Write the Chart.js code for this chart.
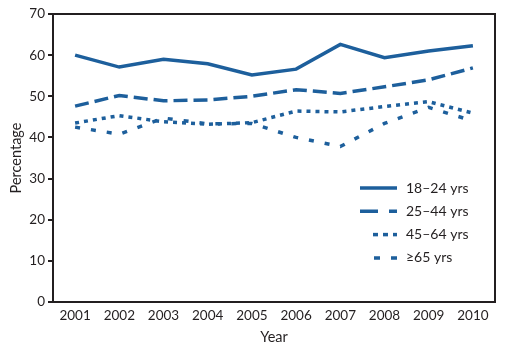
<!DOCTYPE html>
<html>
<head>
<meta charset="utf-8">
<script src="https://cdn.jsdelivr.net/npm/chart.js@4/dist/chart.umd.min.js"></script>
<style>
html,body{margin:0;padding:0;background:#fff;}
#wrap{width:511px;height:352px;position:relative;}
</style>
</head>
<body>
<div id="wrap"><canvas id="c" width="511" height="352"></canvas></div>
<script>
const years = ['2001','2002','2003','2004','2005','2006','2007','2008','2009','2010'];
const age18to24 = [60.0, 57.1, 59.0, 57.9, 55.2, 56.6, 62.6, 59.4, 61.0, 62.3];
const age25to44 = [47.6, 50.2, 48.9, 49.1, 50.0, 51.6, 50.7, 52.3, 54.0, 56.9];
const age45to64 = [43.5, 45.3, 43.8, 43.2, 43.6, 46.4, 46.2, 47.5, 48.7, 45.9];
const age65plus = [42.5, 40.8, 44.7, 43.3, 43.4, 40.0, 37.8, 43.4, 47.3, 44.0];
const seriesLabels = ['18\u201324 yrs','25\u201344 yrs','45\u201364 yrs','\u226565 yrs'];

const blue = '#1d5f9c';
const ink = '#231f20';
const fontFam = 'Lato, "Liberation Sans", sans-serif';

const frame = {
  id:'frame',
  afterDraw(chart){
    const {ctx, chartArea:a} = chart;
    ctx.save();
    ctx.strokeStyle = ink; ctx.lineWidth = 2;
    ctx.strokeRect(a.left, a.top, a.right-a.left, a.bottom-a.top);
    // legend inside plot
    const x1 = a.left + 344, tx = x1 + 9;
    let y = 188;
    ctx.font = '14px ' + fontFam;
    ctx.textBaseline = 'middle';
    chart.data.datasets.forEach((ds, i) => {
      ctx.beginPath();
      ctx.strokeStyle = ds.borderColor;
      ctx.lineWidth = ds.borderWidth;
      ctx.setLineDash(ds.legendDash || []);
      ctx.moveTo(x1 - ds.legendLen, y); ctx.lineTo(x1, y);
      ctx.stroke();
      ctx.setLineDash([]);
      ctx.fillStyle = ink;
      ctx.fillText(ds.label, tx, y);
      y += 23.3;
    });
    ctx.restore();
  }
};

new Chart(document.getElementById('c'), {
  type:'line',
  data:{
    labels: years,
    datasets:[
      {label:seriesLabels[0], data:age18to24, borderColor:blue, borderWidth:3.5, borderDash:[], legendDash:[], legendLen:37, pointRadius:0, tension:0, fill:false},
      {label:seriesLabels[1], data:age25to44, borderColor:blue, borderWidth:3.5, borderDash:[14,6], legendDash:[18,11], legendLen:37, pointRadius:0, tension:0, fill:false},
      {label:seriesLabels[2], data:age45to64, borderColor:blue, borderWidth:3.5, borderDash:[4,5], legendDash:[5,5], legendLen:24, pointRadius:0, tension:0, fill:false},
      {label:seriesLabels[3], data:age65plus, borderColor:blue, borderWidth:3.5, borderDash:[5,11], legendDash:[6,11], legendLen:23, pointRadius:0, tension:0, fill:false}
    ]
  },
  options:{
    responsive:false, maintainAspectRatio:false, animation:false,
    devicePixelRatio:1,
    layout:{padding:{top:14, right:16, left:0, bottom:0}},
    plugins:{legend:{display:false}, tooltip:{enabled:false}},
    scales:{
      x:{
        offset:true,
        afterFit(s){ s.height = 50; },
        grid:{display:false, drawTicks:false},
        border:{display:true, color:ink, width:2},
        ticks:{color:ink, font:{family:fontFam, size:13.5}, padding:6, maxRotation:0, autoSkip:false},
        title:{display:true, text:'Year', color:ink, font:{family:fontFam, size:14.5}, padding:{top:0, bottom:6}}
      },
      y:{
        min:0, max:70,
        afterFit(s){ s.width = 53; },
        grid:{display:true, drawOnChartArea:false, drawTicks:true, tickLength:5, color:ink, lineWidth:2},
        border:{display:true, color:ink, width:2},
        ticks:{stepSize:10, color:ink, font:{family:fontFam, size:13.5}, padding:3},
        title:{display:true, text:'Percentage', color:ink, font:{family:fontFam, size:14.5}, padding:{top:8, bottom:0}}
      }
    }
  },
  plugins:[frame]
});
</script>
</body>
</html>
